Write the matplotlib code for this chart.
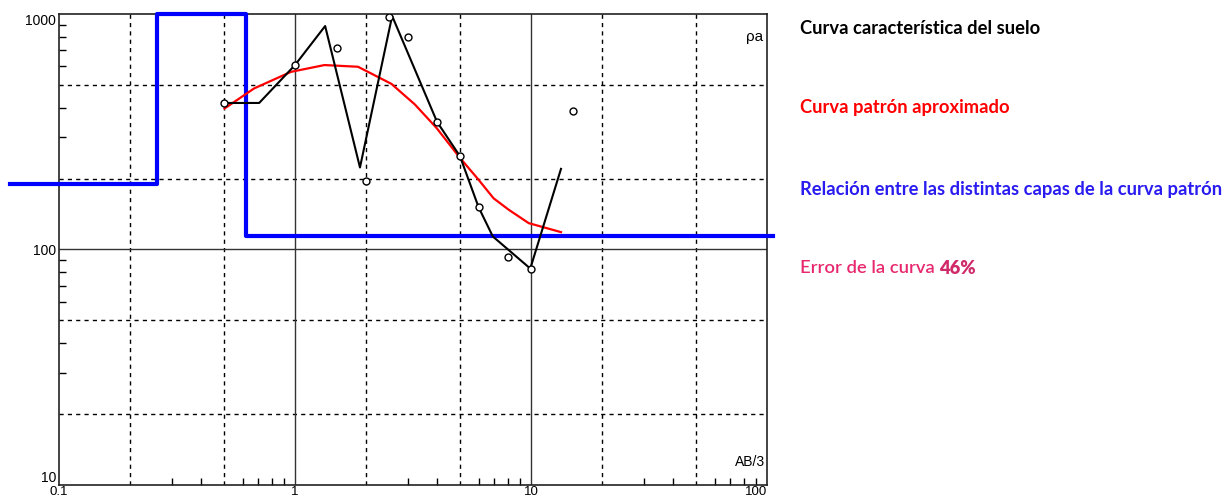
import matplotlib.pyplot as plt
from matplotlib.ticker import FixedLocator, NullFormatter

# field data: electrode spacing vs apparent resistivity (open circles)
obs_x = [0.5, 1.0, 1.5, 2.0, 2.5, 3.0, 4.0, 5.0, 6.0, 8.0, 10.0, 15.0]
obs_rho = [419, 607, 719, 195, 971, 798, 348, 249, 151, 92.5, 83, 387]

# black "curva caracteristica"
field_x = [0.5, 0.705, 1.0, 1.342, 1.885, 2.58, 4.0, 5.0, 6.0, 6.89, 9.93, 13.4]
field_rho = [419, 419, 607, 889, 223, 981, 348, 249, 151, 113.6, 83, 220]

# red "curva patron"
model_x = [0.503, 0.671, 0.962, 1.333, 1.849, 2.562, 3.22, 3.98, 5.0, 5.99, 6.94, 8.04, 9.78, 13.4]
model_rho = [397, 483, 568, 607, 597, 505, 413, 328, 245, 198, 165, 147.6, 129.4, 118.5]

# blue layered model (step)
layer_x = [0.062, 0.261, 0.261, 0.619, 0.619, 106]
layer_rho = [189, 189, 1000, 1000, 113.6, 113.6]

fig = plt.figure(figsize=(12.25, 4.99), dpi=100)
ax = fig.add_axes([59 / 1225, 14 / 499, 708 / 1225, 471 / 499])
ax.set_xscale('log')
ax.set_yscale('log')
ax.set_xlim(0.1, 100)
ax.set_ylim(10, 1000)

# grid lines
for gx in [0.2, 0.5, 2, 5, 20, 50]:
    ax.axvline(gx, color='black', lw=1, ls=(0, (3, 3)), zorder=1)
for gy in [20, 50, 200, 500]:
    ax.axhline(gy, color='black', lw=1, ls=(0, (3, 3)), zorder=1)
for gx in [1, 10]:
    ax.axvline(gx, color='#333333', lw=1, zorder=1)
ax.axhline(100, color='#333333', lw=1, zorder=1)

ax.plot(layer_x, layer_rho, color='#0000ff', lw=3, clip_on=False, zorder=3)
ax.plot(model_x, model_rho, color='#ff0000', lw=1.6, zorder=4)
ax.plot(field_x, field_rho, color='black', lw=1.5, zorder=5)
ax.plot(obs_x, obs_rho, 'o', ms=5, mfc='white', mec='black', mew=1, zorder=6)

for s in ax.spines.values():
    s.set_color('#222222')
    s.set_linewidth(1.2)

fnt = ['Liberation Sans', 'DejaVu Sans']
ax.set_xticks([0.1, 1, 10, 100])
ax.set_xticklabels(['0.1', '1', '10', '100'], family=fnt, fontsize=9.5)
ax.set_yticks([10, 100, 1000])
ax.set_yticklabels(['10', '100', '1000'], family=fnt, fontsize=10)
ax.get_yticklabels()[0].set_va('bottom')
ax.get_yticklabels()[2].set_va('top')
ax.get_xticklabels()[3].set_ha('right')
ax.tick_params(which='major', length=0)
ax.tick_params(axis='x', which='major', pad=0.5)
ax.tick_params(axis='y', which='major', pad=2)
ax.tick_params(which='minor', direction='in', length=5, width=1, color='black')
minors_x = [m * 10.0 ** e for e in (-1, 0, 1) for m in (3, 4, 6, 7, 8, 9)]
minors_y = [m * 10.0 ** e for e in (1, 2) for m in (3, 4, 6, 7, 8, 9)]
ax.xaxis.set_minor_locator(FixedLocator(minors_x))
ax.yaxis.set_minor_locator(FixedLocator(minors_y))
ax.xaxis.set_minor_formatter(NullFormatter())
ax.yaxis.set_minor_formatter(NullFormatter())

ax.text(0.995, 0.965, 'ρa', transform=ax.transAxes, ha='right', va='top',
        family=fnt, fontsize=11)
ax.text(0.997, 0.034, 'AB/3', transform=ax.transAxes, ha='right', va='bottom',
        family=fnt, fontsize=10)

# right-hand annotations
tx = 800 / 1225
fs = 13.2
fig.text(tx, 1 - 28 / 499, 'Curva característica del suelo', color='black',
         family='Lato', weight='bold', fontsize=fs, va='center')
fig.text(tx, 1 - 108 / 499, 'Curva patrón aproximado', color='#ff0000',
         family='Lato', weight='bold', fontsize=fs, va='center')
fig.text(tx, 1 - 189 / 499, 'Relación entre las distintas capas de la curva patrón',
         color='#2a1cf0', family='Lato', weight='bold', fontsize=fs, va='center')
t = fig.text(tx, 1 - 268 / 499, 'Error de la curva ', color='#e8286e',
             family='Lato', weight='semibold', fontsize=fs, va='center')
fig.canvas.draw()
bb = t.get_window_extent()
fig.text(bb.x1 / fig.bbox.width, 1 - 268 / 499, '46%', color='#d02a6a',
         family='Lato', weight='heavy', fontsize=fs, va='center')

fig.savefig('out.png', dpi=100)
